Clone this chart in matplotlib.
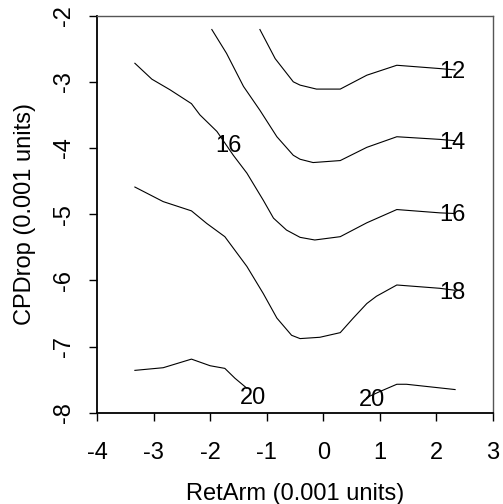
import matplotlib
matplotlib.use("Agg")
import matplotlib.pyplot as plt

plt.rcParams['font.family'] = ['Liberation Sans', 'DejaVu Sans']

# contour lines (RetArm, CPDrop)
x12 = [-1.12, -0.85, -0.53, -0.41, -0.12, 0.30, 0.77, 1.30, 2.06, 2.33]
y12 = [-2.21, -2.65, -3.00, -3.05, -3.11, -3.11, -2.90, -2.75, -2.80, -2.82]

x14 = [-1.97, -1.71, -1.41, -1.12, -0.82, -0.53, -0.41, -0.18, 0.30, 0.77, 1.30, 2.06, 2.33]
y14 = [-2.21, -2.57, -3.07, -3.43, -3.83, -4.11, -4.17, -4.22, -4.19, -3.99, -3.83, -3.87, -3.89]

x16 = [-3.33, -3.03, -2.71, -2.33, -2.18, -1.88, -1.59, -1.35, -1.06, -0.88, -0.65,
       -0.41, -0.15, 0.30, 0.77, 1.30, 2.06, 2.33]
y16 = [-2.72, -2.96, -3.12, -3.33, -3.50, -3.75, -4.11, -4.38, -4.79, -5.06, -5.24,
       -5.35, -5.39, -5.34, -5.13, -4.93, -4.98, -4.99]

x18 = [-3.33, -2.83, -2.33, -2.06, -1.74, -1.35, -1.06, -0.82, -0.56, -0.41, -0.06,
       0.30, 0.53, 0.77, 0.94, 1.30, 2.06, 2.33]
y18 = [-4.59, -4.81, -4.95, -5.14, -5.34, -5.79, -6.20, -6.57, -6.83, -6.88, -6.86,
       -6.79, -6.57, -6.35, -6.24, -6.07, -6.12, -6.15]

x20a = [-3.33, -2.83, -2.33, -2.00, -1.74, -1.56, -1.35]
y20a = [-7.36, -7.32, -7.19, -7.29, -7.33, -7.48, -7.63]

x20b = [0.77, 1.00, 1.30, 1.47, 2.33]
y20b = [-7.77, -7.68, -7.57, -7.57, -7.65]

lines = [(x12, y12), (x14, y14), (x16, y16), (x18, y18), (x20a, y20a), (x20b, y20b)]

# contour labels
lab_text = ['12', '14', '16', '16', '18', '20', '20']
lab_x = [2.28, 2.28, 2.28, -1.68, 2.28, -1.24, 0.86]
lab_y = [-2.85, -3.92, -5.02, -3.97, -6.19, -7.77, -7.81]

fig = plt.figure(figsize=(5.03, 5.04), dpi=100)
ax = fig.add_axes([0.1928, 0.1811, 0.7873, 0.7879])

for xs, ys in lines:
    ax.plot(xs, ys, color='black', lw=0.8)

for t, lx, ly in zip(lab_text, lab_x, lab_y):
    ax.text(lx, ly, t, ha='center', va='center', fontsize=17)

ax.set_xlim(-4, 3)
ax.set_ylim(-8, -2)
ax.set_xticks(range(-4, 4))
ax.set_yticks(range(-8, -1))
ax.set_xticklabels([str(v) for v in range(-4, 4)])
ax.set_yticklabels([str(v) for v in range(-8, -1)], rotation=90, va='center')

ax.tick_params(axis='both', length=6, width=1, labelsize=17, color='black')
ax.tick_params(axis='x', pad=15)
ax.tick_params(axis='y', pad=10)

for s in ['left', 'bottom']:
    ax.spines[s].set_linewidth(1.3)
    ax.spines[s].set_color('black')
for s in ['top', 'right']:
    ax.spines[s].set_linewidth(1.0)
    ax.spines[s].set_color('#555555')

ax.set_xlabel('RetArm (0.001 units)', fontsize=17, labelpad=14)
ax.set_ylabel('CPDrop (0.001 units)', fontsize=17, labelpad=12)

fig.savefig('out.png', dpi=100)
